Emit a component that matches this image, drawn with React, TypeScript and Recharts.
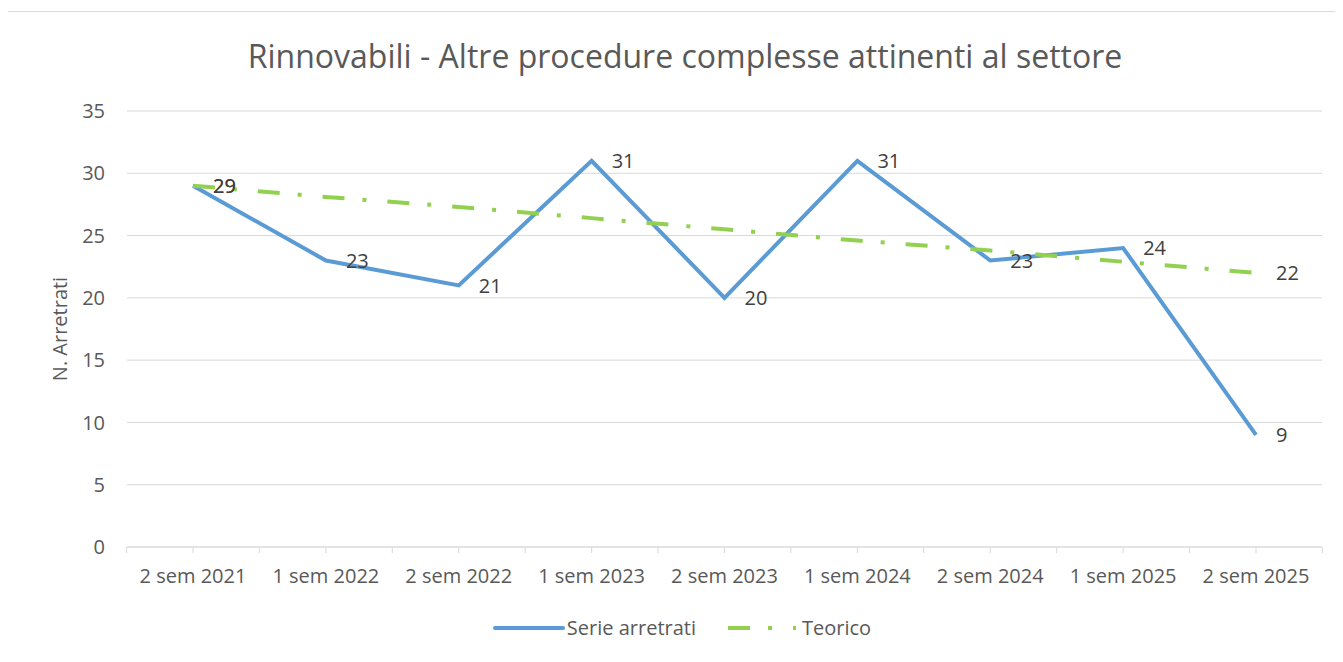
import React from 'react';
import {
  LineChart,
  Line,
  XAxis,
  YAxis,
  CartesianGrid,
  Legend,
  LabelList,
} from 'recharts';

const periods = [
  '2 sem 2021',
  '1 sem 2022',
  '2 sem 2022',
  '1 sem 2023',
  '2 sem 2023',
  '1 sem 2024',
  '2 sem 2024',
  '1 sem 2025',
  '2 sem 2025',
];
const arretrati = [29, 23, 21, 31, 20, 31, 23, 24, 9];
const teorico = [29, 28.1, 27.3, 26.4, 25.5, 24.6, 23.8, 22.9, 22];
const yTicks = [0, 5, 10, 15, 20, 25, 30, 35];

const data = periods.map((p, i) => ({
  period: p,
  arretrati: arretrati[i],
  teorico: teorico[i],
}));

const FONT = '"Open Sans", sans-serif';
const BLUE = '#5B9BD5';
const GREEN = '#92D050';
const GRID = '#D9D9D9';
const HALF_BAND = 66.4;

function XTick(props: any) {
  const { x, y, payload, index } = props;
  const top = y - 22;
  return (
    <g>
      <line x1={x} x2={x} y1={top} y2={top + 6} stroke={GRID} />
      <line x1={x + HALF_BAND} x2={x + HALF_BAND} y1={top} y2={top + 6} stroke={GRID} />
      {index === 0 && (
        <line x1={x - HALF_BAND} x2={x - HALF_BAND} y1={top} y2={top + 6} stroke={GRID} />
      )}
      <text x={x} y={y} dy="0.71em" textAnchor="middle" fill="#595959" fontSize={20} fontFamily={FONT}>
        {payload.value}
      </text>
    </g>
  );
}

function EndLabel(props: any) {
  const { x, y, value, index } = props;
  if (index !== 0 && index !== teorico.length - 1) return null;
  return (
    <text x={x + 20} y={y} dy="0.35em" fill="#404040" fontSize={20} fontFamily={FONT}>
      {value}
    </text>
  );
}

function LegendBox() {
  return (
    <div
      style={{
        display: 'flex',
        justifyContent: 'center',
        alignItems: 'center',
        fontFamily: FONT,
        fontSize: 20,
        color: '#595959',
        gap: 30,
        paddingLeft: 34,
      }}
    >
      <span style={{ display: 'flex', alignItems: 'center' }}>
        <svg width={72} height={10}>
          <line x1={2} x2={70} y1={5} y2={5} stroke={BLUE} strokeWidth={4} strokeLinecap="round" />
        </svg>
        <span style={{ marginLeft: 2 }}>Serie arretrati</span>
      </span>
      <span style={{ display: 'flex', alignItems: 'center' }}>
        <svg width={72} height={10}>
          <line x1={2} x2={70} y1={5} y2={5} stroke={GREEN} strokeWidth={4} strokeDasharray="22 18 4 21" />
        </svg>
        <span style={{ marginLeft: 4 }}>Teorico</span>
      </span>
    </div>
  );
}

export default function App() {
  return (
    <div
      style={{
        marginLeft: -1,
        marginTop: 3,
        width: 1345,
        height: 660,
        border: '1px solid #D9D9D9',
        background: '#fff',
        position: 'relative',
        boxSizing: 'border-box',
      }}
    >
      <div
        style={{
          position: 'absolute',
          top: 22,
          left: 0,
          width: 1354,
          textAlign: 'center',
          fontFamily: FONT,
          fontSize: 32,
          color: '#595959',
        }}
      >
        Rinnovabili - Altre procedure complesse attinenti al settore
      </div>
      <LineChart
        width={1334}
        height={648}
        data={data}
        margin={{ top: 99, right: 20, bottom: 2, left: 0 }}
      >
        <CartesianGrid vertical={false} stroke={GRID} />
        <XAxis
          dataKey="period"
          padding={{ left: 66, right: 66 }}
          stroke={GRID}
          tickLine={false}
          tick={<XTick />}
          tickSize={0}
          tickMargin={22}
          height={67}
          interval={0}
        />
        <YAxis
          width={119}
          domain={[0, 35]}
          ticks={yTicks}
          axisLine={false}
          tickLine={false}
          tickSize={0}
          tickMargin={22}
          tick={{ fill: '#595959', fontSize: 20, fontFamily: FONT }}
          label={{
            value: 'N. Arretrati',
            angle: -90,
            position: 'insideLeft',
            offset: 52,
            style: { textAnchor: 'middle', fill: '#595959', fontSize: 20, fontFamily: FONT },
          }}
        />
        <Legend verticalAlign="bottom" height={44} content={<LegendBox />} />
        <Line
          type="linear"
          dataKey="arretrati"
          name="Serie arretrati"
          stroke={BLUE}
          strokeWidth={4}
          dot={false}
          activeDot={false}
          isAnimationActive={false}
        >
          <LabelList dataKey="arretrati" position="right" offset={20} fill="#404040" fontSize={20} fontFamily={FONT} />
        </Line>
        <Line
          type="linear"
          dataKey="teorico"
          name="Teorico"
          stroke={GREEN}
          strokeWidth={4}
          strokeDasharray="22 18 4 21"
          dot={false}
          activeDot={false}
          isAnimationActive={false}
        >
          <LabelList dataKey="teorico" content={<EndLabel />} />
        </Line>
      </LineChart>
    </div>
  );
}
